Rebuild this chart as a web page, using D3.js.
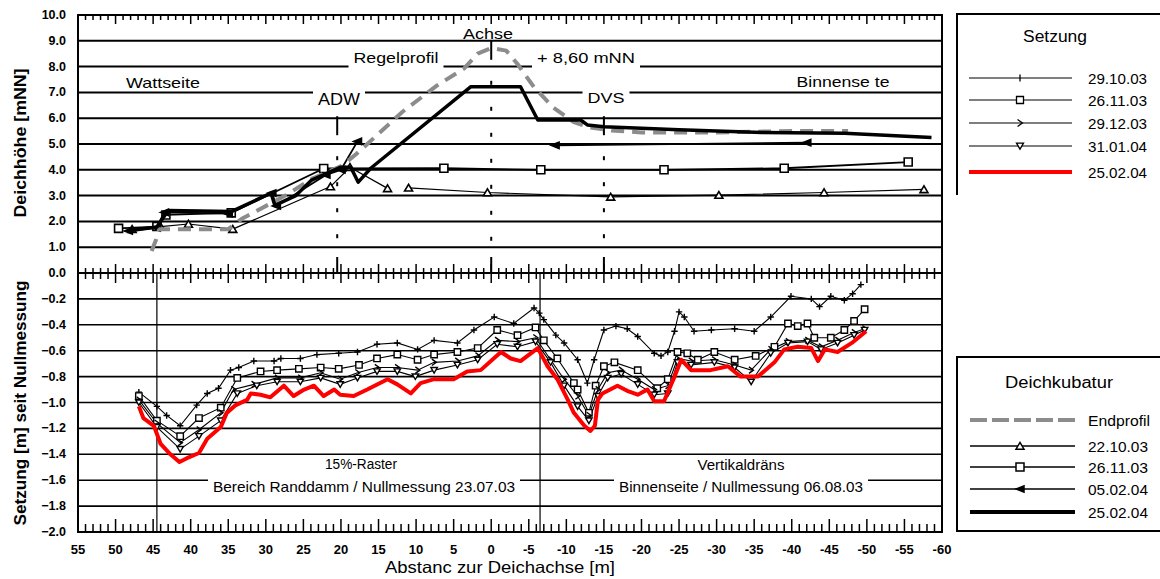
<!DOCTYPE html>
<html>
<head>
<meta charset="utf-8">
<script src="https://cdn.jsdelivr.net/npm/d3@7"></script>
<style>
body { margin: 0; background: #fff; }
svg { display: block; font-family: "Liberation Sans", Arial, sans-serif; }
</style>
</head>
<body>
<svg id="chart" width="1160" height="579"></svg>
<script>
// --- Data: axis ticks ---
const xTicks = [55, 50, 45, 40, 35, 30, 25, 20, 15, 10, 5, 0, -5, -10, -15, -20, -25, -30, -35, -40, -45, -50, -55, -60];
const yTopTicks = [10, 9, 8, 7, 6, 5, 4, 3, 2, 1, 0];
const yBotTicks = [-0.2, -0.4, -0.6, -0.8, -1.0, -1.2, -1.4, -1.6, -1.8, -2.0];
const refLines = [20.5, 0, -15];          // ADW, Achse, DVS
const zoneLines = [44.5, -6.5];           // limits of the settlement sections

// --- Data: Deichkubatur (upper panel) [distance m, height mNN] ---
const endprofil = [[45.2,0.85],[44.6,1.3],[44.2,1.7],[35,1.7],[33.2,2.1],[27.4,3.0],[23.9,3.65],[19.9,4.15],[18,4.6],[11.8,6.25],[7.2,7.27],[3.6,7.93],[1.8,8.5],[0,8.72],[-2,8.62],[-3.5,8.1],[-5.7,7.2],[-8.3,6.4],[-11,5.85],[-13,5.65],[-16,5.52],[-20,5.45],[-30,5.45],[-40,5.5],[-47.5,5.5]];
const kub221003 = [[47.8,1.7],[44,1.8],[40.3,1.9],[34.4,1.7],[21.4,3.35],[18.8,4.1],[13.8,3.28],null,[11,3.3],[0.5,3.12],[-15.9,2.95],[-30.3,3.02],[-44.3,3.12],[-57.6,3.24]];
const kub261103 = [[49.6,1.73],[44.5,1.8],[43.3,2.25],[34.6,2.33],[22.3,4.05],[6.3,4.06],[-6.6,4.0],[-23,4.0],[-39,4.06],[-55.5,4.3]];
const kub050204 = [[48.3,1.63],[44.6,1.75],[43.5,2.35],[35,2.3],[29.2,3.1],[28.6,2.6],[22,3.8],[20,4.0],[17.8,5.1],null,[-8.5,4.95],[-42,5.05]];
const kub250204 = [[48,1.65],[44.5,1.78],[43,2.42],[34.6,2.38],[29.3,3.1],[28.8,2.62],[26,3.0],[23.9,3.6],[20,4.1],[18.7,4.1],[17.7,3.52],[16,4.07],[2.7,7.22],[-3.9,7.22],[-6.2,5.93],[-11.9,5.93],[-12.8,5.74],[-15,5.67],[-25,5.55],[-36,5.45],[-47,5.42],[-58.6,5.25]];

// --- Data: Setzung (lower panel) [distance m, settlement m] ---
const set291003 = [[46.9,-0.92],[44.5,-1.03],[43.2,-1.10],[41.4,-1.18],[39.2,-1.02],[37.8,-0.93],[36.3,-0.89],[34.7,-0.75],[33.6,-0.73],[31.6,-0.68],[28.9,-0.68],[28.0,-0.66],[25.4,-0.66],[23.2,-0.63],[20.3,-0.62],[17.8,-0.61],[15.2,-0.55],[12.5,-0.54],[9.8,-0.59],[7.6,-0.52],[4.5,-0.54],[2.3,-0.44],[-0.4,-0.34],[-3.0,-0.39],[-5.7,-0.27],[-6.4,-0.31],[-7.0,-0.36],[-8.6,-0.48],[-9.7,-0.54],[-11.5,-0.67],[-12.8,-0.85],[-13.7,-0.67],[-15.0,-0.44],[-16.6,-0.41],[-18.1,-0.43],[-19.5,-0.49],[-21.7,-0.62],[-22.6,-0.64],[-23.5,-0.61],[-24.4,-0.45],[-25.0,-0.30],[-25.7,-0.34],[-27.0,-0.45],[-29.3,-0.44],[-32.4,-0.43],[-35.0,-0.45],[-37.2,-0.34],[-39.9,-0.18],[-42.6,-0.20],[-43.7,-0.26],[-45.2,-0.18],[-47.0,-0.21],[-48.1,-0.16],[-49.2,-0.09]];
const set261103 = [[46.9,-0.95],[44.5,-1.14],[41.4,-1.26],[38.9,-1.12],[36.0,-1.04],[33.8,-0.81],[30.7,-0.76],[28.5,-0.75],[25.6,-0.74],[22.7,-0.73],[20.3,-0.74],[17.6,-0.71],[15.2,-0.66],[12.5,-0.63],[9.8,-0.67],[7.6,-0.63],[4.5,-0.61],[1.8,-0.58],[-0.8,-0.44],[-3.5,-0.48],[-5.9,-0.42],[-7.0,-0.52],[-8.8,-0.66],[-11.0,-0.85],[-11.5,-0.90],[-13.0,-1.08],[-13.9,-0.87],[-15.0,-0.72],[-16.4,-0.69],[-19.5,-0.75],[-22.1,-0.89],[-23.5,-0.82],[-24.8,-0.61],[-26.1,-0.62],[-27.5,-0.67],[-29.7,-0.61],[-32.4,-0.67],[-35.2,-0.64],[-37.7,-0.57],[-39.5,-0.39],[-40.8,-0.41],[-42.1,-0.39],[-43.0,-0.50],[-45.2,-0.50],[-47.0,-0.44],[-48.3,-0.37],[-49.7,-0.28]];
const set291203 = [[46.9,-0.98],[44.5,-1.16],[41.4,-1.31],[38.9,-1.21],[36.0,-1.08],[34.3,-0.90],[31.6,-0.86],[28.5,-0.81],[25.4,-0.81],[22.7,-0.77],[20.1,-0.82],[17.8,-0.77],[15.2,-0.73],[12.5,-0.73],[9.8,-0.75],[7.6,-0.69],[4.5,-0.68],[1.8,-0.64],[-0.8,-0.52],[-3.5,-0.53],[-5.9,-0.50],[-7.9,-0.67],[-9.7,-0.82],[-11.5,-0.95],[-13.0,-1.10],[-14.2,-0.90],[-15.5,-0.77],[-17.3,-0.75],[-19.5,-0.82],[-21.7,-0.90],[-23.5,-0.87],[-24.8,-0.66],[-26.6,-0.68],[-29.7,-0.67],[-32.4,-0.71],[-34.6,-0.75],[-37.2,-0.59],[-39.5,-0.53],[-42.1,-0.52],[-43.9,-0.57],[-46.1,-0.52],[-48.3,-0.46],[-49.7,-0.43]];
const set310104 = [[46.9,-1.00],[44.5,-1.19],[41.4,-1.36],[38.9,-1.26],[36.0,-1.14],[33.8,-0.93],[31.2,-0.87],[28.5,-0.84],[25.4,-0.84],[22.7,-0.81],[20.1,-0.86],[17.8,-0.81],[15.2,-0.76],[12.5,-0.76],[10.1,-0.80],[7.6,-0.75],[4.5,-0.71],[1.8,-0.67],[-0.8,-0.55],[-3.5,-0.57],[-5.9,-0.53],[-7.9,-0.69],[-9.7,-0.87],[-11.5,-1.03],[-13.0,-1.14],[-14.2,-0.95],[-15.5,-0.81],[-17.3,-0.78],[-19.5,-0.86],[-21.7,-0.94],[-23.5,-0.93],[-24.8,-0.69],[-26.6,-0.71],[-29.7,-0.69],[-32.4,-0.73],[-34.6,-0.84],[-37.2,-0.62],[-39.5,-0.54],[-42.1,-0.53],[-43.9,-0.59],[-46.1,-0.54],[-48.3,-0.48],[-49.7,-0.44]];
const set250204 = [[46.9,-1.03],[46.3,-1.12],[44.9,-1.18],[44.0,-1.32],[42.7,-1.40],[41.5,-1.46],[40.5,-1.43],[38.9,-1.39],[37.8,-1.28],[36.0,-1.19],[35.2,-1.08],[34.0,-1.02],[32.5,-0.98],[32.0,-0.93],[30.7,-0.94],[29.4,-0.96],[27.6,-0.87],[26.3,-0.95],[24.9,-0.90],[23.6,-0.87],[22.3,-0.95],[20.9,-0.90],[20.1,-0.94],[18.3,-0.95],[16.5,-0.90],[13.8,-0.82],[12.5,-0.86],[10.7,-0.93],[9.4,-0.85],[7.6,-0.82],[5.0,-0.82],[3.2,-0.76],[1.4,-0.75],[-1.3,-0.61],[-2.6,-0.66],[-3.9,-0.68],[-6.2,-0.58],[-7.5,-0.72],[-8.8,-0.82],[-10.2,-0.98],[-11.0,-1.08],[-12.4,-1.18],[-13.2,-1.22],[-13.8,-1.18],[-14.2,-0.98],[-14.8,-0.93],[-16.8,-0.87],[-18.1,-0.91],[-19.5,-0.94],[-20.8,-0.90],[-21.7,-0.99],[-23.0,-0.99],[-24.4,-0.80],[-25.3,-0.67],[-26.6,-0.75],[-29.2,-0.75],[-31.5,-0.72],[-33.2,-0.80],[-35.5,-0.80],[-37.7,-0.69],[-39.0,-0.59],[-40.8,-0.57],[-42.6,-0.58],[-43.5,-0.68],[-44.4,-0.59],[-46.1,-0.61],[-48.0,-0.54],[-49.9,-0.45]];

// --- Legend labels ---
const setzungLabels = ["29.10.03", "26.11.03", "29.12.03", "31.01.04", "25.02.04"];
const kubaturLabels = ["Endprofil", "22.10.03", "26.11.03", "05.02.04", "25.02.04"];

// --- Layout ---
const W = 1160, H = 579;
const plot = { left: 78, right: 942, top: 15, mid: 273, bottom: 532 };

const x = d3.scaleLinear().domain([55, -60]).range([plot.left, plot.right]);
const yTop = d3.scaleLinear().domain([0, 10]).range([plot.mid, plot.top]);
const yBot = d3.scaleLinear().domain([-2, 0]).range([plot.bottom, plot.mid]);

const svg = d3.select("#chart");
svg.append("rect").attr("width", W).attr("height", H).attr("fill", "#fff");

// --- Gridlines ---
const gGrid = svg.append("g");
gGrid.selectAll("line.gt").data(yTopTicks.filter(v => v > 0 && v < 10)).join("line")
    .attr("x1", plot.left).attr("x2", plot.right)
    .attr("y1", d => yTop(d)).attr("y2", d => yTop(d))
    .attr("stroke", "#000").attr("stroke-width", 2);
gGrid.selectAll("line.gb").data(yBotTicks.filter(v => v > -2)).join("line")
    .attr("x1", plot.left).attr("x2", plot.right)
    .attr("y1", d => yBot(d)).attr("y2", d => yBot(d))
    .attr("stroke", "#000").attr("stroke-width", 1.6);
gGrid.append("line").attr("x1", plot.left).attr("x2", plot.right)
    .attr("y1", plot.mid).attr("y2", plot.mid).attr("stroke", "#000").attr("stroke-width", 2);

// thin section limits in the settlement panel
gGrid.selectAll("line.zone").data(zoneLines).join("line")
    .attr("x1", d => x(d)).attr("x2", d => x(d))
    .attr("y1", plot.mid).attr("y2", plot.bottom)
    .attr("stroke", "#000").attr("stroke-width", 1.2);

// --- Annotation text (white boxes cut the gridlines) ---
const gText = svg.append("g");
function label(g, t) {
    if (t.box) {
        g.append("rect").attr("x", t.x - t.w / 2 - 5).attr("y", t.y - 11)
            .attr("width", t.w + 10).attr("height", 22).attr("fill", "#fff");
    }
    g.append("text").attr("x", t.x).attr("y", t.y)
        .attr("text-anchor", "middle").attr("dominant-baseline", "central")
        .attr("font-size", t.fs).attr("textLength", t.w).attr("lengthAdjust", "spacingAndGlyphs")
        .attr("fill", "#000").text(t.text);
}
[
    { text: "Wattseite", x: 163, y: 82, w: 74, fs: 15 },
    { text: "ADW", x: 339, y: 99, w: 42, fs: 16, box: true },
    { text: "Regelprofil", x: 396, y: 57, w: 85, fs: 15, box: true },
    { text: "Achse", x: 488, y: 33, w: 50, fs: 15 },
    { text: "+ 8,60 mNN", x: 586, y: 57, w: 98, fs: 15, box: true },
    { text: "DVS", x: 606, y: 97, w: 37, fs: 15, box: true },
    { text: "Binnense te", x: 843, y: 81, w: 93, fs: 15 },
    { text: "15%-Raster", x: 361, y: 464, w: 72, fs: 14 },
    { text: "Bereich Randdamm / Nullmessung 23.07.03", x: 364, y: 487, w: 302, fs: 14.5, box: true },
    { text: "Vertikaldräns", x: 741, y: 465, w: 87, fs: 14 },
    { text: "Binnenseite / Nullmessung 06.08.03", x: 741, y: 487, w: 244, fs: 14.5, box: true }
].forEach(t => label(gText, t));

// --- Dashed reference verticals (ADW, Achse, DVS) ---
const gRef = svg.append("g");
refLines.forEach((v, i) => {
    const top = i === 1 ? yTop(9) : yTop(6) - 2;
    const segs = [[top, top + 19]];
    for (let yy = top + 40; yy < plot.mid - 18; yy += 26) segs.push([yy, yy + 4]);
    segs.push([plot.mid - 16, plot.mid]);
    gRef.selectAll(null).data(segs).join("line")
        .attr("x1", x(v)).attr("x2", x(v))
        .attr("y1", d => d[0]).attr("y2", d => d[1])
        .attr("stroke", "#000").attr("stroke-width", 2);
});

// --- Markers ---
function markerPath(type, s) {
    switch (type) {
        case "plus": return `M${-s},0H${s}M0,${-s}V${s}`;
        case "bar": return `M0,${-s}V${s}`;
        case "square": return `M${-s},${-s}H${s}V${s}H${-s}Z`;
        case "chevron": return `M${-s * 0.7},${-s}L${s * 0.7},0L${-s * 0.7},${s}`;
        case "tridown": return `M${-s},${-s * 0.8}H${s}L0,${s * 0.9}Z`;
        case "triup": return `M${-s},${s * 0.8}H${s}L0,${-s * 0.9}Z`;
        case "trileft": return `M${-s},0L${s},${-s * 0.8}V${s * 0.8}Z`;
    }
}
function markerFill(type) {
    if (type === "trileft") return "#000";
    if (type === "square" || type === "tridown" || type === "triup") return "#fff";
    return "none";
}
function drawMarkers(g, pts, type, s, sw) {
    g.selectAll(null).data(pts).join("path")
        .attr("transform", d => `translate(${d[0]},${d[1]})`)
        .attr("d", markerPath(type, s))
        .attr("fill", markerFill(type)).attr("stroke", "#000").attr("stroke-width", sw);
}

// --- Upper panel series ---
const gTop = svg.append("g");
const lineTop = d3.line().defined(d => d !== null).x(d => x(d[0])).y(d => yTop(d[1]));
const topSeries = [
    { data: kub221003, w: 1.2, marker: "triup" },
    { data: kub261103, w: 1.8, marker: "square" },
    { data: kub050204, w: 1.8, marker: "trileft" },
    { data: endprofil, w: 4, color: "#8c8c8c", dash: "13,8" },
    { data: kub250204, w: 3.5 }
];
topSeries.forEach(s => {
    gTop.append("path").attr("d", lineTop(s.data))
        .attr("fill", "none").attr("stroke", s.color || "#000")
        .attr("stroke-width", s.w).attr("stroke-dasharray", s.dash || null)
        .attr("stroke-linejoin", "round");
    if (s.marker) {
        drawMarkers(gTop, s.data.filter(d => d !== null).map(d => [x(d[0]), yTop(d[1])]), s.marker, 4, 1.6);
    }
});

// --- Lower panel series ---
const gBot = svg.append("g");
const lineBot = d3.line().x(d => x(d[0])).y(d => yBot(d[1]));
const botSeries = [
    { data: set291003, marker: "plus" },
    { data: set261103, marker: "square" },
    { data: set291203, marker: "chevron" },
    { data: set310104, marker: "tridown" }
];
botSeries.forEach(s => {
    gBot.append("path").attr("d", lineBot(s.data))
        .attr("fill", "none").attr("stroke", "#000").attr("stroke-width", 1.1);
});
botSeries.forEach(s => {
    drawMarkers(gBot, s.data.map(d => [x(d[0]), yBot(d[1])]), s.marker, 3.2, 1.4);
});
gBot.append("path").attr("d", lineBot(set250204))
    .attr("fill", "none").attr("stroke", "#ff0000").attr("stroke-width", 4)
    .attr("stroke-linejoin", "round");

// --- Frame and x ticks ---
const gAxis = svg.append("g");
gAxis.append("rect").attr("x", plot.left).attr("y", plot.top)
    .attr("width", plot.right - plot.left).attr("height", plot.bottom - plot.top)
    .attr("fill", "none").attr("stroke", "#000").attr("stroke-width", 2);

const minorTicks = d3.range(-60, 56, 1);
const isMajor = v => v % 5 === 0;
gAxis.selectAll("line.tt").data(minorTicks).join("line")
    .attr("x1", d => x(d)).attr("x2", d => x(d))
    .attr("y1", plot.top).attr("y2", d => plot.top + (isMajor(d) ? 9 : 5))
    .attr("stroke", "#000").attr("stroke-width", 1.5);
gAxis.selectAll("line.tm").data(minorTicks).join("line")
    .attr("x1", d => x(d)).attr("x2", d => x(d))
    .attr("y1", d => plot.mid - (isMajor(d) ? 9 : 5)).attr("y2", d => plot.mid + (isMajor(d) ? 10 : 6))
    .attr("stroke", "#000").attr("stroke-width", 1.5);
gAxis.selectAll("line.tb").data(minorTicks).join("line")
    .attr("x1", d => x(d)).attr("x2", d => x(d))
    .attr("y1", d => plot.bottom - (isMajor(d) ? 13 : 8)).attr("y2", plot.bottom)
    .attr("stroke", "#000").attr("stroke-width", 1.5);

// tick labels
gAxis.selectAll("text.xl").data(xTicks).join("text")
    .attr("x", d => x(d)).attr("y", 549)
    .attr("text-anchor", "middle").attr("dominant-baseline", "central")
    .attr("font-size", 13).attr("font-weight", "bold").text(d => d);
gAxis.selectAll("text.yt").data(yTopTicks).join("text")
    .attr("x", 66).attr("y", d => yTop(d))
    .attr("text-anchor", "end").attr("dominant-baseline", "central")
    .attr("font-size", 12.5).attr("font-weight", "bold").text(d => d3.format(".1f")(d));
gAxis.selectAll("text.yb").data(yBotTicks).join("text")
    .attr("x", 66).attr("y", d => yBot(d))
    .attr("text-anchor", "end").attr("dominant-baseline", "central")
    .attr("font-size", 12.5).attr("font-weight", "bold").text(d => d3.format(".1f")(d));

// axis titles
gAxis.append("text").attr("transform", "translate(20,143) rotate(-90)")
    .attr("text-anchor", "middle").attr("dominant-baseline", "central")
    .attr("font-size", 16).attr("font-weight", "bold")
    .attr("textLength", 149).attr("lengthAdjust", "spacingAndGlyphs").text("Deichhöhe [mNN]");
gAxis.append("text").attr("transform", "translate(20,403) rotate(-90)")
    .attr("text-anchor", "middle").attr("dominant-baseline", "central")
    .attr("font-size", 16).attr("font-weight", "bold")
    .attr("textLength", 245).attr("lengthAdjust", "spacingAndGlyphs").text("Setzung [m] seit Nullmessung");
gAxis.append("text").attr("x", 500).attr("y", 567)
    .attr("text-anchor", "middle").attr("dominant-baseline", "central")
    .attr("font-size", 16.5)
    .attr("textLength", 230).attr("lengthAdjust", "spacingAndGlyphs").text("Abstanc zur Deichachse [m]");

// --- Legend: Setzung ---
const gLeg = svg.append("g");
gLeg.append("path").attr("d", "M957,195V14H1162").attr("fill", "none")
    .attr("stroke", "#000").attr("stroke-width", 2);
label(gLeg, { text: "Setzung", x: 1055, y: 36, w: 64, fs: 16 });
const setzungY = [78, 100, 123, 146, 172];
const setzungMarkers = ["bar", "square", "chevron", "tridown", null];
setzungLabels.forEach((t, i) => {
    const last = i === setzungLabels.length - 1;
    gLeg.append("line").attr("x1", 969).attr("x2", 1072).attr("y1", setzungY[i]).attr("y2", setzungY[i])
        .attr("stroke", last ? "#ff0000" : "#000").attr("stroke-width", last ? 4 : 1.1);
    if (setzungMarkers[i]) drawMarkers(gLeg, [[1020, setzungY[i]]], setzungMarkers[i], 3.5, 1.3);
    gLeg.append("text").attr("x", 1088).attr("y", setzungY[i]).attr("dominant-baseline", "central")
        .attr("font-size", 15).attr("textLength", 59).attr("lengthAdjust", "spacingAndGlyphs").text(t);
});

// --- Legend: Deichkubatur ---
gLeg.append("rect").attr("x", 957).attr("y", 357).attr("width", 260).attr("height", 174)
    .attr("fill", "none").attr("stroke", "#000").attr("stroke-width", 2);
label(gLeg, { text: "Deichkubatur", x: 1059, y: 382, w: 108, fs: 16 });
const kubY = [420, 446, 467, 489, 512];
const kubStyle = [
    { w: 4, color: "#8c8c8c", dash: "17,5" },
    { w: 1.5, marker: "triup" },
    { w: 1.5, marker: "square" },
    { w: 1.5, marker: "trileft" },
    { w: 4 }
];
kubaturLabels.forEach((t, i) => {
    const st = kubStyle[i];
    gLeg.append("line").attr("x1", 970).attr("x2", 1075).attr("y1", kubY[i]).attr("y2", kubY[i])
        .attr("stroke", st.color || "#000").attr("stroke-width", st.w)
        .attr("stroke-dasharray", st.dash || null);
    if (st.marker) drawMarkers(gLeg, [[1020, kubY[i]]], st.marker, 4, 1.5);
    gLeg.append("text").attr("x", 1088).attr("y", kubY[i]).attr("dominant-baseline", "central")
        .attr("font-size", 15).attr("textLength", i === 0 ? 62 : 60).attr("lengthAdjust", "spacingAndGlyphs").text(t);
});
</script>
</body>
</html>
